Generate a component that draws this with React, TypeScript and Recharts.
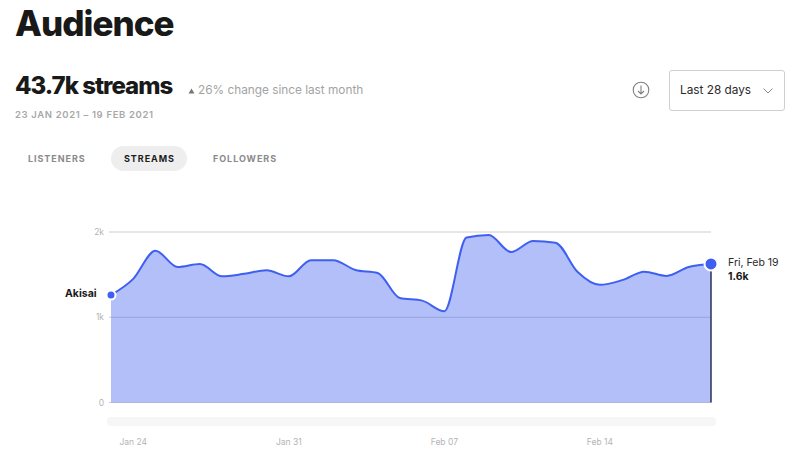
import { Area, AreaChart, CartesianGrid, ReferenceDot, ReferenceLine, XAxis, YAxis } from "recharts";
import type { CSSProperties, ReactNode } from "react";

const DAYS = [
  "Jan 23", "Jan 24", "Jan 25", "Jan 26", "Jan 27", "Jan 28", "Jan 29", "Jan 30", "Jan 31",
  "Feb 01", "Feb 02", "Feb 03", "Feb 04", "Feb 05", "Feb 06", "Feb 07", "Feb 08", "Feb 09",
  "Feb 10", "Feb 11", "Feb 12", "Feb 13", "Feb 14", "Feb 15", "Feb 16", "Feb 17", "Feb 18", "Feb 19",
];
const STREAMS = [
  1260, 1450, 1780, 1590, 1625, 1480, 1510, 1550, 1480,
  1670, 1670, 1555, 1520, 1225, 1195, 1070, 1935, 1965,
  1765, 1895, 1875, 1530, 1380, 1435, 1535, 1485, 1590, 1625,
];
const X_TICKS = ["Jan 24", "Jan 31", "Feb 07", "Feb 14"];
const Y_TICKS = [0, 1000, 2000];

const FONT = "Inter, sans-serif";
const BLUE = "#3f5ff0";

const data = DAYS.map((day, i) => ({ day, streams: STREAMS[i] }));
const lastDay = DAYS[DAYS.length - 1];
const lastValue = STREAMS[STREAMS.length - 1];

function Text({ x, y, style, children }: { x: number; y: number; style: CSSProperties; children: ReactNode }) {
  return (
    <div style={{ position: "absolute", left: x, top: y, whiteSpace: "nowrap", fontFamily: FONT, lineHeight: 1, ...style }}>
      {children}
    </div>
  );
}

const tabStyle: CSSProperties = { fontSize: 9, fontWeight: 700, letterSpacing: 0.95, color: "#8a8a8a" };

export default function App() {
  return (
    <div style={{ position: "absolute", left: 0, top: 0, width: 800, height: 454, background: "#fff", overflow: "hidden" }}>
      <Text x={15} y={6} style={{ fontSize: 35, fontWeight: 800, letterSpacing: -1, color: "#191919" }}>Audience</Text>
      <Text x={15} y={74} style={{ fontSize: 24, fontWeight: 800, letterSpacing: -1, color: "#191919" }}>43.7k streams</Text>

      <svg style={{ position: "absolute", left: 188, top: 88 }} width={7} height={6}>
        <path d="M3.5 0.5 L6.5 5.5 L0.5 5.5 Z" fill="#777" />
      </svg>
      <Text x={198} y={85} style={{ fontSize: 11.8, color: "#a3a3a3" }}>26% change since last month</Text>
      <Text x={15} y={110} style={{ fontSize: 9.5, fontWeight: 600, letterSpacing: 0.65, color: "#a8a8a8" }}>23 JAN 2021 – 19 FEB 2021</Text>

      <div style={{ position: "absolute", left: 111, top: 146, width: 76, height: 25, borderRadius: 13, background: "#eeeeee" }} />
      <Text x={28} y={154} style={tabStyle}>LISTENERS</Text>
      <Text x={124} y={154} style={{ ...tabStyle, color: "#1c1c1c" }}>STREAMS</Text>
      <Text x={213} y={154} style={tabStyle}>FOLLOWERS</Text>

      <svg style={{ position: "absolute", left: 631, top: 80 }} width={20} height={20} fill="none" stroke="#808080" strokeWidth={1.1}>
        <circle cx={10} cy={10} r={7.8} />
        <path d="M10 5.5 V14 M7 11 L10 14 L13 11" />
      </svg>
      <div style={{ position: "absolute", left: 669, top: 70, width: 114, height: 39, border: "1px solid #cfcfcf", borderRadius: 3 }} />
      <Text x={680} y={85} style={{ fontSize: 11.8, color: "#2a2a2a" }}>Last 28 days</Text>
      <svg style={{ position: "absolute", left: 762, top: 87 }} width={12} height={8} fill="none" stroke="#888" strokeWidth={1}>
        <path d="M1.5 1.5 L6 6 L10.5 1.5" />
      </svg>

      <div style={{ position: "absolute", left: 107, top: 417, width: 609, height: 9, borderRadius: 4, background: "#f6f6f6" }} />

      <div style={{ position: "absolute", left: 0, top: 222 }}>
        <AreaChart width={800} height={232} data={data} margin={{ top: 10, right: 89, bottom: 0, left: 0 }}>
          <CartesianGrid vertical={false} stroke="#cdcdcd" strokeWidth={1} />
          <XAxis
            dataKey="day"
            ticks={X_TICKS}
            interval={0}
            height={51.5}
            axisLine={false}
            tickLine={false}
            tickMargin={30}
            tick={{ fontSize: 8.5, fill: "#b4b4b4", fontFamily: FONT }}
          />
          <YAxis
            width={111}
            domain={[0, 2000]}
            ticks={Y_TICKS}
            axisLine={false}
            tickSize={2}
            tickMargin={5}
            stroke="#cdcdcd"
            tick={{ fontSize: 8.5, fill: "#b4b4b4", fontFamily: FONT }}
            tickFormatter={(v: number) => (v === 0 ? "0" : `${v / 1000}k`)}
          />
          <Area
            type="monotone"
            dataKey="streams"
            stroke={BLUE}
            strokeWidth={2}
            fill={BLUE}
            fillOpacity={0.4}
            dot={false}
            activeDot={false}
            isAnimationActive={false}
          />
          <ReferenceLine
            segment={[{ x: lastDay, y: lastValue }, { x: lastDay, y: 0 }]}
            stroke="#2b3357"
            strokeWidth={1.5}
          />
          <ReferenceDot x={DAYS[0]} y={STREAMS[0]} r={4.5} fill={BLUE} stroke="#fff" strokeWidth={2} />
          <ReferenceDot x={lastDay} y={lastValue} r={6.5} fill={BLUE} stroke="#fff" strokeWidth={2} />
        </AreaChart>
      </div>

      <Text x={65} y={289} style={{ fontSize: 10.5, fontWeight: 700, color: "#191919" }}>Akisai</Text>
      <Text x={728} y={258} style={{ fontSize: 10.5, color: "#2a2a2a" }}>Fri, Feb 19</Text>
      <Text x={728} y={272} style={{ fontSize: 10.5, fontWeight: 700, color: "#191919" }}>1.6k</Text>
    </div>
  );
}
